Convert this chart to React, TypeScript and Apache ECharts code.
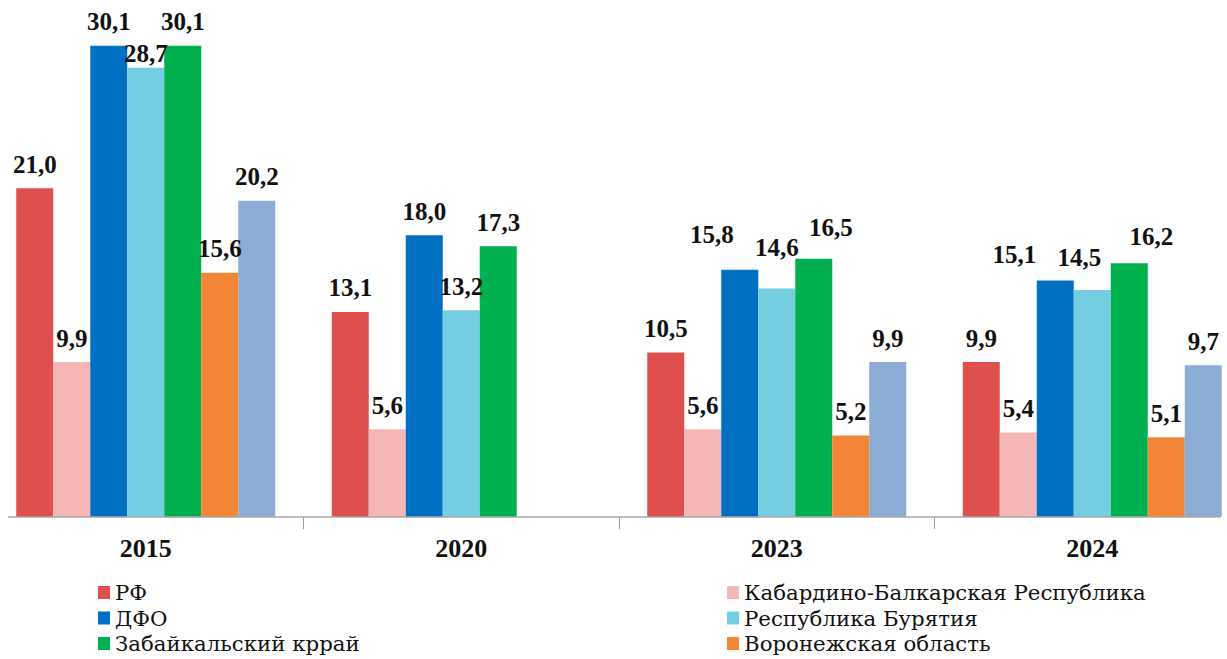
import React, { useEffect, useRef } from "react";
import * as echarts from "echarts";

const categories = ["2015", "2020", "2023", "2024"];
const seriesNames = [
  "РФ",
  "Кабардино-Балкарская Республика",
  "ДФО",
  "Республика Бурятия",
  "Забайкальский кррай",
  "Воронежская область",
  "Ряд 7",
];
const rf = [21.0, 13.1, 10.5, 9.9];
const kbr = [9.9, 5.6, 5.6, 5.4];
const dfo = [30.1, 18.0, 15.8, 15.1];
const buryatia = [28.7, 13.2, 14.6, 14.5];
const zabaikal = [30.1, 17.3, 16.5, 16.2];
const voronezh = [15.6, null, 5.2, 5.1];
const series7 = [20.2, null, 9.9, 9.7];
const allValues = [rf, kbr, dfo, buryatia, zabaikal, voronezh, series7];

const colors = ["#DE4F4E", "#F5B7B6", "#0070C3", "#74CDE0", "#00B04F", "#F38636", "#8DACD4"];

// label position adjustments: [seriesIndex, categoryIndex] -> [dx, dy]
const labelOffsets: Record<string, [number, number]> = {
  "3-0": [0, 10],
  "2-2": [-28, -11],
  "3-2": [0, -17],
  "4-2": [17, -7],
  "2-3": [-41, -2],
  "3-3": [-13, -8],
  "4-3": [22, -3],
};

const leftLegend = [seriesNames[0], seriesNames[2], seriesNames[4]];
const rightLegend = [seriesNames[1], seriesNames[3], seriesNames[5]];

export default function App() {
  const ref = useRef<HTMLDivElement>(null);
  useEffect(() => {
    if (!ref.current) return;
    const chart = echarts.init(ref.current, null, { renderer: "svg" });
    const legendText = {
      fontFamily: "DejaVu Serif",
      fontSize: 21.3,
      color: "#111",
      lineHeight: 25,
    };
    const legendBase = {
      orient: "vertical",
      top: 580,
      height: 79,
      padding: 0,
      icon: "rect",
      itemWidth: 12,
      itemHeight: 13,
      itemGap: 0.5,
      textStyle: legendText,
      selectedMode: false,
    };
    chart.setOption({
      animation: false,
      backgroundColor: "#fff",
      grid: { left: 0, right: 0, top: 16, bottom: 142, containLabel: false },
      legend: [
        { ...legendBase, data: leftLegend, left: 110 },
        { ...legendBase, data: rightLegend, left: 739 },
      ],
      xAxis: {
        type: "category",
        data: categories,
        axisLine: { show: false },
        axisTick: { show: true, length: 12, lineStyle: { color: "#9a9a9a", width: 1 } },
        axisLabel: {
          margin: 18,
          fontFamily: "Liberation Serif",
          fontWeight: "bold",
          fontSize: 26,
          color: "#111",
        },
      },
      yAxis: { type: "value", min: 0, max: 32, show: false, splitLine: { show: false } },
      graphic: [
        {
          type: "line",
          shape: { x1: 20, y1: 517, x2: 1232, y2: 517 },
          style: { stroke: "#a8a8a8", lineWidth: 1.5 },
          z: 10,
        },
      ],
      series: allValues.map((vals, si) => ({
        name: seriesNames[si],
        type: "bar",
        barWidth: 37,
        barGap: "0%",
        itemStyle: { color: colors[si] },
        data: vals.map((v, ci) => {
          const off = labelOffsets[`${si}-${ci}`];
          return off ? { value: v, label: { offset: off } } : v;
        }),
        label: {
          show: true,
          position: "top",
          distance: 11.5,
          fontFamily: "Liberation Serif",
          fontWeight: "bold",
          fontSize: 25,
          color: "#111",
          formatter: (p: any) =>
            p.value == null ? "" : Number(p.value).toFixed(1).replace(".", ","),
        },
      })),
    });
    return () => chart.dispose();
  }, []);
  return (
    <div
      style={{
        position: "absolute",
        left: 0,
        top: 0,
        width: 1227,
        height: 659,
        overflow: "hidden",
        background: "#fff",
      }}
    >
      <div
        ref={ref}
        style={{ position: "absolute", left: -12, top: 0, width: 1262, height: 659 }}
      />
    </div>
  );
}
